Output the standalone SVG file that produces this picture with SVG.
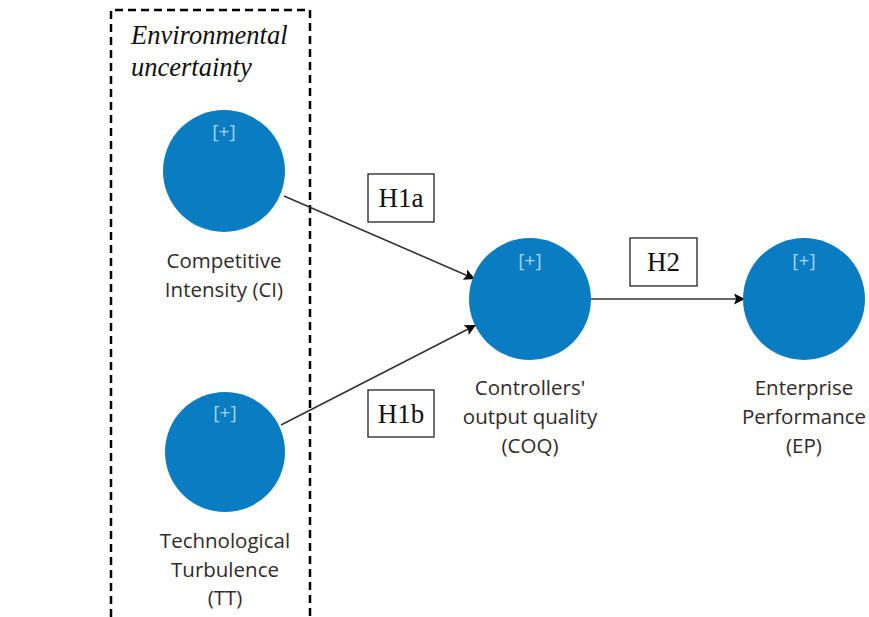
<svg xmlns="http://www.w3.org/2000/svg" width="869" height="617" viewBox="0 0 869 617">
<style>
.c{fill:#0a7cc1}
.p{font-family:"Open Sans","Noto Sans",sans-serif;font-size:19px;fill:#a6d4f4;text-anchor:middle}
.l{font-family:"Open Sans","Noto Sans",sans-serif;font-size:20.5px;fill:#332a2a;text-anchor:middle}
.h{font-family:"Liberation Serif",serif;font-size:27px;fill:#111;text-anchor:middle}
.b{fill:#fff;stroke:#222;stroke-width:1.3}
.e{stroke:#333;stroke-width:1.6;fill:none;marker-end:url(#a)}
</style>
<defs>
<marker id="a" viewBox="0 0 10 10" refX="10" refY="5" markerWidth="12" markerHeight="11" markerUnits="userSpaceOnUse" orient="auto">
<path d="M0,0 L10,5 L0,10 L2,5 z" fill="#000"/>
</marker>
</defs>
<rect width="869" height="617" fill="#fff"/>
<g id="env">
<path d="M111,617 L111,10 L310,10 L310,617" fill="none" stroke="#000" stroke-width="2.5" stroke-dasharray="8,5"/>
<text x="131" y="44" font-family="Liberation Serif,serif" font-style="italic" font-size="26.5" fill="#111">Environmental</text>
<text x="131" y="76" font-family="Liberation Serif,serif" font-style="italic" font-size="26.5" fill="#111">uncertainty</text>
</g>
<g id="connectors">
<line class="e" x1="284" y1="196" x2="475" y2="279"/>
<line class="e" x1="281" y1="425" x2="476" y2="325"/>
<line class="e" x1="591" y1="299" x2="745" y2="299"/>
</g>
<g id="H1a"><rect class="b" x="368" y="174" width="66" height="48"/><text class="h" x="401" y="207">H1a</text></g>
<g id="H1b"><rect class="b" x="368" y="390" width="66" height="47"/><text class="h" x="401" y="423">H1b</text></g>
<g id="H2"><rect class="b" x="630" y="238" width="67" height="48"/><text class="h" x="663.500" y="271">H2</text></g>
<g id="CI">
<circle class="c" cx="224" cy="171" r="61"/>
<text class="p" x="224" y="138">[+]</text>
<text class="l" x="224" y="268">Competitive</text>
<text class="l" x="224" y="297">Intensity (CI)</text>
</g>
<g id="TT">
<circle class="c" cx="225" cy="452" r="60"/>
<text class="p" x="225" y="419">[+]</text>
<text class="l" x="225" y="548">Technological</text>
<text class="l" x="225" y="577">Turbulence</text>
<text class="l" x="225" y="605">(TT)</text>
</g>
<g id="COQ">
<circle class="c" cx="530" cy="299" r="61"/>
<text class="p" x="530" y="267">[+]</text>
<text class="l" x="530" y="395">Controllers'</text>
<text class="l" x="530" y="424">output quality</text>
<text class="l" x="530" y="453">(COQ)</text>
</g>
<g id="EP">
<circle class="c" cx="804" cy="299" r="61"/>
<text class="p" x="804" y="267">[+]</text>
<text class="l" x="804" y="395">Enterprise</text>
<text class="l" x="804" y="424">Performance</text>
<text class="l" x="804" y="453">(EP)</text>
</g>
</svg>
